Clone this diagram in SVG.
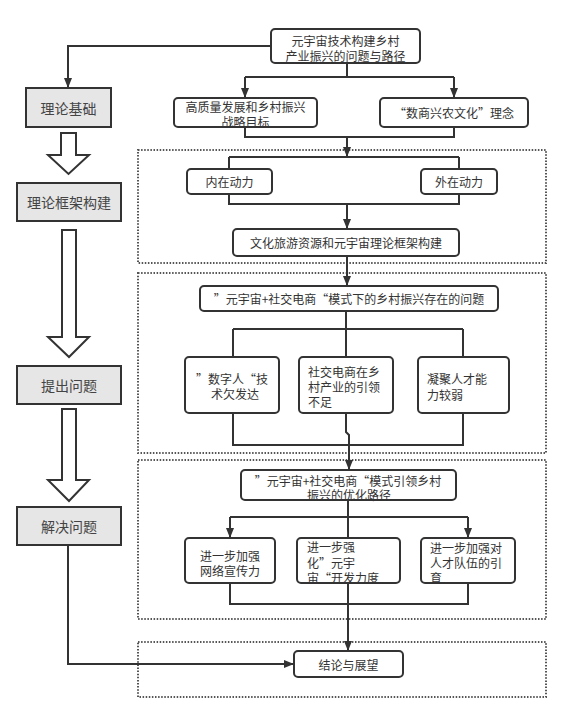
<svg xmlns="http://www.w3.org/2000/svg" width="568" height="713" viewBox="0 0 568 713">
<defs>
<marker id="ah" markerWidth="10" markerHeight="10" refX="10" refY="5" orient="auto" markerUnits="userSpaceOnUse"><path d="M0,1 L10,5 L0,9 Z" fill="#333"/></marker>
<style>
.bx{fill:#fff;stroke:#333;stroke-width:2}
.gb{fill:#e6e6e6;stroke:#333;stroke-width:2}
.ha{fill:#fff;stroke:#333;stroke-width:2;stroke-linejoin:miter}
.dot{fill:none;stroke:#555;stroke-width:2;stroke-dasharray:1.5 1.6}
.ln{fill:none;stroke:#333;stroke-width:2}
.ar{fill:none;stroke:#333;stroke-width:2;marker-end:url(#ah)}
text{font-family:"Noto Sans CJK SC","Noto Sans",sans-serif;font-size:12px;fill:#333;dominant-baseline:central}
.c{text-anchor:middle}
.lt{font-size:14px;fill:#444;text-anchor:middle}
</style>
</defs>
<rect width="568" height="713" fill="#fff"/>

<g id="frames">
<rect class="dot" x="138" y="150" width="408" height="113"/>
<rect class="dot" x="138" y="273" width="408" height="180"/>
<rect class="dot" x="138" y="460" width="408" height="159"/>
<rect class="dot" x="138" y="642" width="408" height="55"/>
</g>

<g id="connectors">
<path class="ar" d="M271,46 H68 V88"/>
<path class="ln" d="M347,63 V77 M245,77 H454"/>
<path class="ar" d="M245,77 V98"/>
<path class="ar" d="M454,77 V98"/>
<path class="ln" d="M245,127 V137 H454 V125"/>
<path class="ar" d="M347,137 V157"/>
<path class="ln" d="M229,157 H459 M229,157 V169 M459,157 V169"/>
<path class="ln" d="M229,194 V204 H459 V194"/>
<path class="ar" d="M347,204 V229"/>
<path class="ar" d="M347,256 V286"/>
<path class="ln" d="M346,311 V357 M233,329 H463 M233,329 V357 M463,329 V357"/>
<path class="ln" d="M233,413 V445 H463 V413"/>
<path class="ar" d="M346,413 V432 L349,435 V470"/>
<path class="ln" d="M348,500 V538 M230,517 H468"/>
<path class="ar" d="M230,517 V538"/>
<path class="ar" d="M468,517 V538"/>
<path class="ln" d="M230,583 V604 H468 V583"/>
<path class="ar" d="M348,583 V651"/>
<path class="ar" d="M68,545 V664 H294"/>
<polygon class="ha" points="61,133 76,133 76,155 89,155 68.5,174 48,155 61,155"/>
<polygon class="ha" points="62,230 76,230 76,337 89,337 69,357 48,337 62,337"/>
<polygon class="ha" points="62,409 76,409 76,480 89,480 69,501 48,480 62,480"/>
</g>

<g id="n-llj"><rect class="gb" x="26" y="88" width="85" height="39"/><text class="lt" x="68.5" y="107.5">理论基础</text></g>
<g id="n-llkj"><rect class="gb" x="17" y="183" width="104" height="38"/><text class="lt" x="69" y="202">理论框架构建</text></g>
<g id="n-tcwt"><rect class="gb" x="17" y="366" width="104" height="38"/><text class="lt" x="69" y="385">提出问题</text></g>
<g id="n-jjwt"><rect class="gb" x="17" y="507" width="104" height="38"/><text class="lt" x="69" y="526">解决问题</text></g>

<g id="n-top"><rect class="bx" x="271" y="29" width="149" height="34" rx="4"/><text class="c" x="345.5" y="40.5">元宇宙技术构建乡村</text><text class="c" x="345.5" y="55">产业振兴的问题与路径</text></g>
<g id="n-gzl"><rect class="bx" x="174" y="98" width="143" height="29" rx="4"/><text class="c" x="245.5" y="106">高质量发展和乡村振兴</text><text class="c" x="245.5" y="121">战略目标</text></g>
<g id="n-ssxn"><rect class="bx" x="380" y="98" width="148" height="29" rx="4"/><text class="c" x="454" y="112.5">“数商兴农文化”理念</text></g>

<g id="n-nz"><rect class="bx" x="187" y="169" width="85" height="25" rx="4"/><text class="c" x="229.5" y="181.5">内在动力</text></g>
<g id="n-wz"><rect class="bx" x="421" y="169" width="76" height="25" rx="4"/><text class="c" x="459" y="181.5">外在动力</text></g>
<g id="n-whly"><rect class="bx" x="233" y="229" width="226" height="27" rx="4"/><text class="c" x="346" y="242.5">文化旅游资源和元宇宙理论框架构建</text></g>

<g id="n-czwt"><rect class="bx" x="200" y="286" width="298" height="25" rx="4"/><text class="c" x="349" y="298.5">”元宇宙+社交电商“模式下的乡村振兴存在的问题</text></g>
<g id="n-szr"><rect class="bx" x="185" y="357" width="94" height="56" rx="4"/><text class="c" x="232" y="378">”数字人“技</text><text class="c" x="235" y="393">术欠发达</text></g>
<g id="n-sjds"><rect class="bx" x="299" y="357" width="94" height="56" rx="4"/><text x="308" y="371">社交电商在乡</text><text x="308" y="386">村产业的引领</text><text x="308" y="401">不足</text></g>
<g id="n-njrc"><rect class="bx" x="418" y="357" width="91" height="56" rx="4"/><text x="427" y="378">凝聚人才能</text><text x="427" y="394">力较弱</text></g>

<g id="n-yhlj"><rect class="bx" x="241" y="470" width="215" height="30" rx="4"/><text class="c" x="348" y="480">”元宇宙+社交电商“模式引领乡村</text><text class="c" x="349" y="494">振兴的优化路径</text></g>
<g id="n-wlxc"><rect class="bx" x="185" y="538" width="90" height="45" rx="4"/><text class="c" x="230" y="555">进一步加强</text><text class="c" x="230" y="570">网络宣传力</text></g>
<g id="n-yyz"><rect class="bx" x="297" y="538" width="103" height="45" rx="4"/><text x="307" y="546">进一步强</text><text x="307" y="562">化”元宇</text><text x="307" y="577">宙“开发力度</text></g>
<g id="n-rcdw"><rect class="bx" x="421" y="538" width="94" height="45" rx="4"/><text x="430" y="547">进一步加强对</text><text x="430" y="562">人才队伍的引</text><text x="430" y="577">育</text></g>

<g id="n-jl"><rect class="bx" x="294" y="651" width="109" height="26" rx="4"/><text class="c" x="348.5" y="664">结论与展望</text></g>
</svg>
